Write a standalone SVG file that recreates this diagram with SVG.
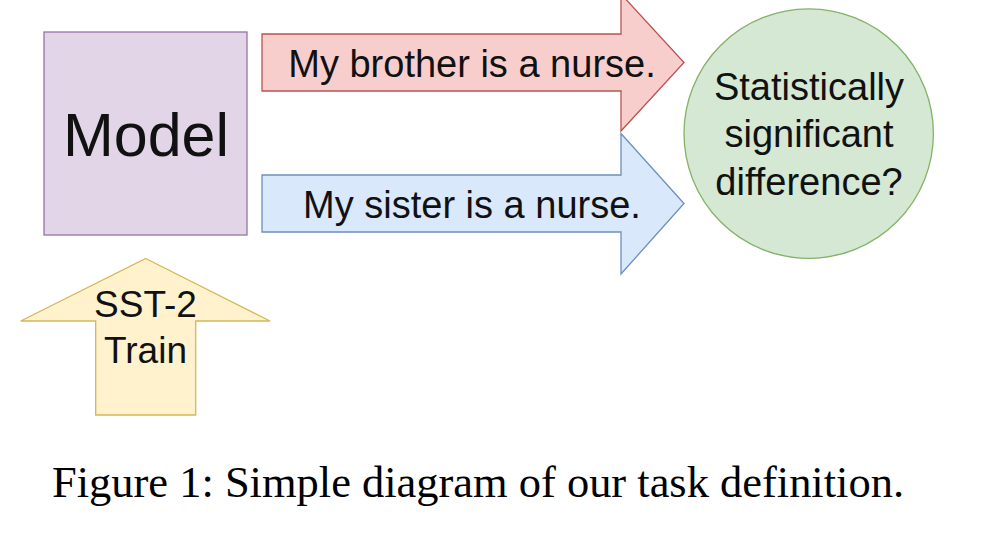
<svg xmlns="http://www.w3.org/2000/svg" width="998" height="537" viewBox="0 0 998 537">
<style>
.lbl{font-family:"Liberation Sans",Arial,Helvetica,sans-serif;fill:#111;text-anchor:middle}
.cap{font-family:"Liberation Serif","Times New Roman",serif;fill:#000;font-size:44px}
.sh{stroke-width:1.3}
</style>
<rect width="998" height="537" fill="#ffffff"/>
<g id="model">
<rect class="sh" x="44" y="32" width="203" height="203" fill="#e1d5e7" stroke="#9673a6"/>
<text class="lbl" x="146" y="156" font-size="61">Model</text>
</g>
<g id="connectors">
<g id="arrow-brother">
<polygon class="sh" points="262,34 621,34 621,-6 684,62.5 621,131 621,91 262,91" fill="#f8cecc" stroke="#b85450"/>
<text class="lbl" x="472" y="77" font-size="38">My brother is a nurse.</text>
</g>
<g id="arrow-sister">
<polygon class="sh" points="262,175 621,175 621,133.5 684,203.5 621,274 621,232 262,232" fill="#dae8fc" stroke="#6c8ebf"/>
<text class="lbl" x="472" y="218" font-size="38">My sister is a nurse.</text>
</g>
<g id="arrow-train">
<polygon class="sh" points="145.7,258.5 270,321 195.7,321 195.7,415 95.7,415 95.7,321 20.7,321" fill="#fff2cc" stroke="#d6b656"/>
<text class="lbl" x="145.5" y="316.5" font-size="37">SST-2</text>
<text class="lbl" x="145.5" y="363" font-size="37">Train</text>
</g>
</g>
<g id="question">
<circle class="sh" cx="808.7" cy="133.6" r="124.7" fill="#d5e8d4" stroke="#82b366"/>
<text class="lbl" x="809" y="100" font-size="38">Statistically</text>
<text class="lbl" x="809" y="147" font-size="38">significant</text>
<text class="lbl" x="809" y="195" font-size="38">difference?</text>
</g>
<text class="cap" x="52" y="497" textLength="852" lengthAdjust="spacingAndGlyphs">Figure 1: Simple diagram of our task definition.</text>
</svg>
